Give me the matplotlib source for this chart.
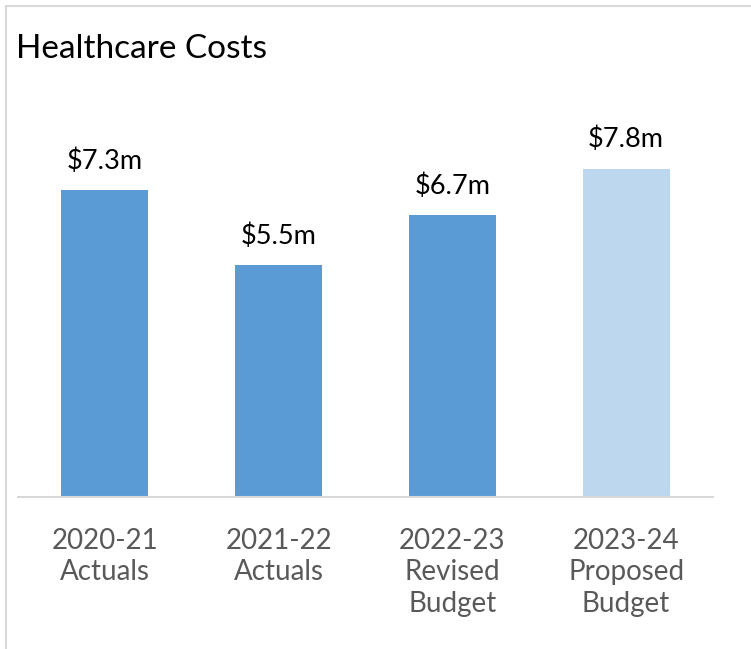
import matplotlib.pyplot as plt
from matplotlib.patches import Rectangle

plt.rcParams['font.family'] = ['Lato', 'DejaVu Sans']

categories = ["2020-21\nActuals", "2021-22\nActuals", "2022-23\nRevised\nBudget", "2023-24\nProposed\nBudget"]
values = [7.3, 5.5, 6.7, 7.8]
labels = ["$7.3m", "$5.5m", "$6.7m", "$7.8m"]
colors = ["#5B9BD5", "#5B9BD5", "#5B9BD5", "#BDD7EE"]

W, H = 751, 649
fig = plt.figure(figsize=(W / 100, H / 100), dpi=100)

# light chart border
fig.patches.append(Rectangle((6 / W, -0.1), 1.2, 1.1 - 6 / H, transform=fig.transFigure,
                             fill=False, edgecolor="#D9D9D9", linewidth=1.5))

ax = fig.add_axes([18 / W, 1 - 497 / H, (713 - 18) / W, (497 - 118) / H])
x = range(len(values))
ax.bar(x, values, width=0.5, color=colors)
ax.set_xlim(-0.5, 3.5)
ax.set_ylim(0, 9)

for xi, v, lab in zip(x, values, labels):
    ax.text(xi, v + 0.5, lab, ha="center", va="baseline", fontsize=19.5, color="black")

for s in ["top", "right", "left"]:
    ax.spines[s].set_visible(False)
ax.spines["bottom"].set_color("#D9D9D9")
ax.spines["bottom"].set_linewidth(1.5)
ax.set_yticks([])
ax.set_xticks(list(x))
ax.set_xticklabels(categories, fontsize=20, color="#595959", linespacing=1.28)
ax.tick_params(axis="x", length=0, pad=22)

fig.text(16 / W, 1 - 58 / H, "Healthcare Costs", fontsize=24, ha="left", va="baseline")

fig.savefig("out.png", dpi=100)
